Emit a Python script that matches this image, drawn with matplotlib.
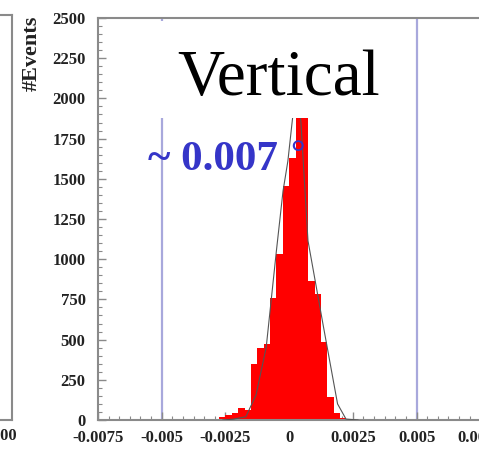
import numpy as np
import matplotlib
matplotlib.use("Agg")
import matplotlib.pyplot as plt
from matplotlib.patches import Rectangle
from matplotlib.ticker import MultipleLocator, AutoMinorLocator, FuncFormatter

# ---- data ----
bin_left = [-0.003, -0.00275, -0.0025, -0.00225, -0.002, -0.00175, -0.0015,
            -0.00125, -0.001, -0.00075, -0.0005, -0.00025, 0.0, 0.00025,
            0.0005, 0.00075, 0.001, 0.00125, 0.0015, 0.00175, 0.002, 0.00225]
counts = [8, 20, 30, 45, 75, 62, 350,
          445, 470, 760, 1030, 1455, 1630, 2150,
          2000, 866, 786, 484, 144, 43, 12, 5]
bin_width = 0.00025

fit_x = [-0.0026, -0.0022, -0.0017, -0.0013, -0.0009, -0.0005, -0.00024,
         -0.00005, 0.00015, 0.0003, 0.00046, 0.00074, 0.00133, 0.0019, 0.00223, 0.0027]
fit_y = [0, 5, 20, 155, 452, 1052, 1424,
         1610, 1900, 2050, 1857, 1114, 594, 100, 6, 0]

cut_lines = [-0.005, 0.005]
xticks = [-0.0075, -0.005, -0.0025, 0, 0.0025, 0.005, 0.0075, 0.01]

W, H = 479, 449
fig = plt.figure(figsize=(W / 100, H / 100), dpi=100)

serif = "Liberation Serif"
spine_col = "#8a8a8a"

# neighbouring panel, mostly off the picture
ax0 = fig.add_axes([-0.5, 29 / H, (0.5 * W + 12) / W, 405 / H])
ax0.set_xticks([])
ax0.set_yticks([])
for s in ax0.spines.values():
    s.set_color(spine_col)
    s.set_linewidth(1.5)
fig.text(17 / W, 1 - 440 / H, "0.0100", ha="right", va="baseline",
         fontfamily=serif, fontweight="bold", fontsize=12, color="#222222")

# main panel
ax = fig.add_axes([98 / W, 29 / H, 446 / W, 402 / H])
edges = np.append(bin_left, bin_left[-1] + bin_width)
ax.stairs(counts, edges, fill=True, color="#ff0000", linewidth=0, zorder=2)
ax.plot(fit_x, fit_y, color="#555555", linewidth=0.8, zorder=3)
for c in cut_lines:
    ax.axvline(c, color="#a8a8dc", linewidth=1.6, zorder=1)

ax.set_xlim(-0.0075, 0.01)
ax.set_ylim(0, 2500)
ax.set_xticks(xticks)
ax.xaxis.set_major_formatter(FuncFormatter(lambda v, p: "%g" % v))
ax.xaxis.set_minor_locator(AutoMinorLocator(6))
ax.yaxis.set_major_locator(MultipleLocator(250))
ax.yaxis.set_minor_locator(MultipleLocator(50))
ax.tick_params(which="both", direction="in", colors=spine_col, labelcolor="#222222")
ax.tick_params(which="major", length=6, width=1)
ax.tick_params(which="minor", length=3, width=0.8)
ax.tick_params(axis="y", pad=9)
ax.tick_params(axis="x", pad=7)
for lab in ax.get_xticklabels() + ax.get_yticklabels():
    lab.set_fontfamily(serif)
    lab.set_fontweight("bold")
    lab.set_fontsize(12)
for s in ["left", "top", "bottom"]:
    ax.spines[s].set_color(spine_col)
    ax.spines[s].set_linewidth(1.5)
ax.spines["right"].set_visible(False)

fig.text(32 / W, 1 - 16 / H, "#Events", rotation=90, ha="center", va="top",
         fontfamily=serif, fontweight="bold", fontsize=16, color="#222222")

# white label box over the top of the plot
box = Rectangle((152 / W, 1 - 118 / H), (400 - 152) / W, (118 - 21) / H,
                transform=fig.transFigure, facecolor="white", edgecolor="none",
                zorder=5, clip_on=False)
ax.add_patch(box)

fig.text(177 / W, 1 - 95 / H, "Vertical", ha="left", va="baseline",
         fontfamily=serif, fontsize=47, color="black", zorder=6)
fig.text(148 / W, 1 - 170 / H, "~ 0.007", ha="left", va="baseline",
         fontfamily=serif, fontweight="bold", fontsize=31, color="#3535c8", zorder=6)
fig.text(297 / W, 1 - 139 / H, "°", ha="center", va="top",
         fontfamily=serif, fontweight="bold", fontsize=26, color="#3535c8", zorder=6)

fig.savefig("out.png", dpi=100)
